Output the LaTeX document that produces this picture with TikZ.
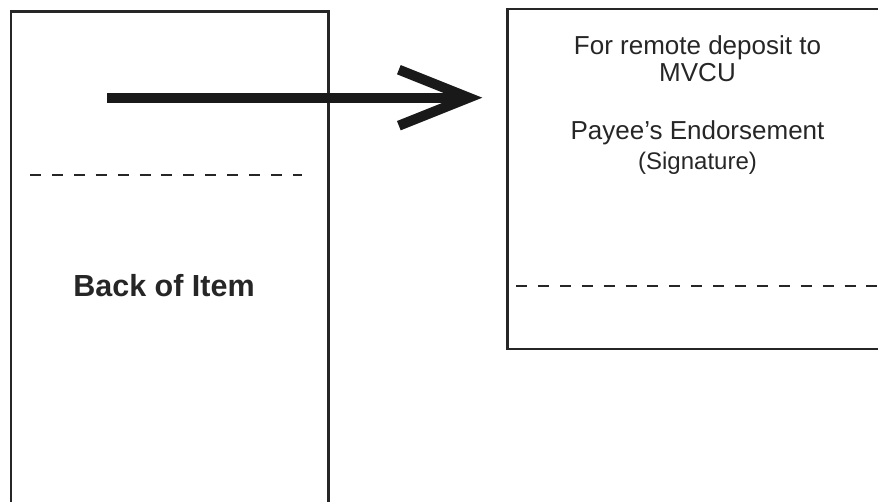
\documentclass[tikz,border=0pt]{standalone}
\usepackage{fontspec}
\setmainfont{Liberation Sans}
\usetikzlibrary{arrows.meta}

\begin{document}
\begin{tikzpicture}[x=1pt,y=-1pt,
  item/.style={draw=black!85,line width=2.4pt,inner sep=0pt,anchor=north west},
  cutline/.style={draw=black!85,line width=2pt,dash pattern=on 11pt off 10.9pt},
  txt/.style={anchor=base,inner sep=0pt,font=\fontsize{26}{28}\selectfont,text=black!85}]
  \useasboundingbox (0,0) rectangle (878,502);
  \clip (0,0) rectangle (878,502);
  % back of the item (left) and endorsement area (right)
  \node[item,minimum width=317.8pt,minimum height=540pt] (back) at (9.5,10.5) {};
  \node[item,minimum width=420pt,minimum height=340.2pt] (front) at (506.2,7.8) {};
  \draw[cutline] (30,175.3) -- (302,175.3);
  \draw[cutline] (516,286) -- (890,286);
  \node[txt,font=\bfseries\fontsize{30.5}{32}\selectfont] (label) at (164,297) {Back of Item};
  \node[txt] (remote) at (697.5,55) {For remote deposit to};
  \node[txt] (mvcu) at (697.5,82) {MVCU};
  \node[txt] (payee) at (697.5,140) {Payee’s Endorsement};
  \node[txt,font=\fontsize{24}{26}\selectfont] (sign) at (697.5,170) {(Signature)};
  % the big arrow
  \coordinate (start) at (107.3,97.7);
  \coordinate (tip) at (482.3,97.7);
  \draw[line width=10pt,black!90,-{Straight Barb[length=70pt,width=56pt]}] (start) -- (tip);
\end{tikzpicture}
\end{document}
